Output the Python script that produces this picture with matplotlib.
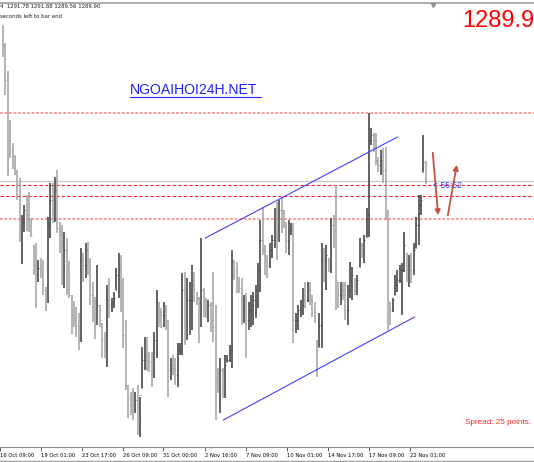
import numpy as np
import matplotlib.pyplot as plt
from matplotlib.patches import FancyArrowPatch

# XAUUSD H4 bars
highs = [
    1305.5, 1303.7, 1300.9, 1296.0, 1293.7, 1292.5, 1291.0, 1290.2, 1286.5, 1287.5,
    1288.5, 1288.8, 1286.2, 1283.5, 1283.7, 1282.0, 1282.2, 1282.0, 1279.3, 1286.3,
    1289.7, 1289.7, 1290.3, 1291.0, 1285.8, 1285.5, 1284.8, 1284.2, 1281.9, 1278.5,
    1277.9, 1277.3, 1276.7, 1283.2, 1282.7, 1283.7, 1283.8, 1282.2, 1279.8, 1278.3,
    1281.5, 1277.5, 1275.7, 1274.8, 1279.5, 1280.2, 1278.2, 1278.8, 1281.2, 1282.7,
    1282.5, 1280.2, 1276.0, 1269.5, 1268.8, 1269.2, 1268.8, 1269.5, 1268.3, 1273.3,
    1274.3, 1274.3, 1272.8, 1272.8, 1274.8, 1279.0, 1277.8, 1277.2, 1277.8, 1277.5,
    1276.0, 1272.2, 1272.5, 1272.2, 1273.7, 1273.7, 1280.7, 1280.8, 1280.2, 1279.8,
    1281.5, 1280.8, 1278.8, 1278.3, 1284.2, 1279.2, 1278.2, 1278.0, 1277.8, 1280.8,
    1277.5, 1271.2, 1272.2, 1271.2, 1272.5, 1272.5, 1273.5, 1283.0, 1282.0, 1281.8,
    1280.3, 1280.2, 1278.5, 1278.7, 1277.8, 1278.5, 1278.8, 1279.5, 1281.7, 1286.0,
    1287.3, 1283.5, 1282.5, 1283.7, 1284.5, 1287.2, 1287.8, 1288.0, 1288.3, 1287.0,
    1285.8, 1286.0, 1285.7, 1285.7, 1276.7, 1277.5, 1278.0, 1279.2, 1279.8, 1279.8,
    1279.8, 1278.5, 1277.8, 1274.0, 1276.7, 1283.7, 1283.2, 1283.5, 1282.2, 1286.2,
    1286.5, 1289.5, 1279.8, 1279.8, 1279.8, 1279.8, 1279.5, 1281.8, 1281.3, 1280.2,
    1280.5, 1284.2, 1283.7, 1284.5, 1287.2, 1296.7, 1295.2, 1294.7, 1294.7, 1292.3,
    1293.0, 1293.2, 1293.3, 1287.0, 1277.8, 1278.2, 1280.5, 1281.0, 1281.5, 1281.7,
    1284.8, 1282.7, 1282.5, 1282.7, 1283.7, 1286.3, 1288.5, 1288.5, 1294.5, 1291.88,
]
lows = [
    1302.3, 1298.5, 1290.4, 1292.2, 1291.1, 1290.5, 1288.0, 1283.8, 1281.6, 1284.8,
    1284.9, 1284.8, 1284.3, 1280.5, 1277.2, 1279.8, 1280.2, 1278.5, 1276.9, 1277.7,
    1284.2, 1285.7, 1285.8, 1284.7, 1282.7, 1279.5, 1279.2, 1278.5, 1278.2, 1274.6,
    1275.3, 1274.3, 1273.0, 1273.8, 1279.8, 1280.2, 1280.5, 1277.5, 1275.8, 1274.1,
    1275.5, 1275.3, 1272.2, 1272.2, 1271.3, 1276.2, 1276.8, 1277.2, 1279.0, 1278.2,
    1276.8, 1273.2, 1269.0, 1266.2, 1266.5, 1266.0, 1266.7, 1264.5, 1264.3, 1269.2,
    1271.0, 1270.9, 1270.8, 1269.3, 1270.2, 1272.2, 1275.3, 1275.2, 1275.3, 1275.0,
    1268.3, 1270.0, 1270.5, 1269.5, 1269.3, 1272.5, 1272.5, 1273.5, 1274.0, 1274.5,
    1275.0, 1277.8, 1277.5, 1273.7, 1275.3, 1276.3, 1276.2, 1275.8, 1274.8, 1273.8,
    1266.0, 1268.7, 1266.7, 1268.2, 1268.2, 1271.8, 1271.8, 1271.2, 1280.0, 1278.7,
    1278.7, 1275.5, 1275.7, 1272.2, 1275.0, 1275.3, 1275.5, 1276.2, 1277.2, 1278.8,
    1282.5, 1280.5, 1280.2, 1281.2, 1282.2, 1283.2, 1282.0, 1283.8, 1284.7, 1285.2,
    1282.7, 1282.5, 1284.5, 1273.7, 1274.7, 1275.0, 1276.3, 1276.5, 1277.2, 1277.8,
    1277.5, 1276.3, 1275.7, 1270.3, 1273.3, 1273.2, 1279.8, 1279.0, 1280.8, 1280.7,
    1283.2, 1277.0, 1277.2, 1277.5, 1278.0, 1276.0, 1275.5, 1278.2, 1278.0, 1278.5,
    1278.5, 1281.3, 1282.2, 1281.7, 1284.3, 1284.3, 1293.5, 1292.8, 1291.5, 1290.8,
    1290.5, 1289.7, 1286.0, 1275.0, 1275.5, 1276.8, 1278.5, 1278.8, 1279.7, 1276.5,
    1280.8, 1279.8, 1279.3, 1279.7, 1280.5, 1283.2, 1283.5, 1286.5, 1290.8, 1289.56,
]
closes = [
    1303.5, 1300.0, 1295.0, 1293.0, 1292.0, 1291.0, 1289.5, 1285.5, 1285.8, 1287.0,
    1286.5, 1285.5, 1284.5, 1281.5, 1281.0, 1281.2, 1280.5, 1279.0, 1278.0, 1285.5,
    1288.0, 1287.0, 1289.0, 1285.2, 1283.5, 1281.0, 1283.0, 1281.0, 1278.5, 1276.5,
    1276.0, 1275.5, 1274.0, 1282.0, 1281.5, 1283.0, 1281.8, 1278.5, 1278.0, 1276.0,
    1277.5, 1276.0, 1274.0, 1273.5, 1278.0, 1277.5, 1277.8, 1278.2, 1280.5, 1281.5,
    1278.5, 1274.5, 1269.5, 1268.2, 1268.0, 1267.5, 1268.0, 1266.0, 1268.5, 1272.0,
    1272.5, 1272.0, 1271.8, 1271.0, 1274.0, 1278.0, 1276.8, 1276.5, 1277.0, 1276.0,
    1271.0, 1271.5, 1271.2, 1270.5, 1273.0, 1273.2, 1279.0, 1276.0, 1278.0, 1278.0,
    1279.5, 1279.0, 1278.2, 1277.0, 1279.0, 1278.0, 1277.0, 1277.5, 1276.0, 1275.0,
    1270.0, 1269.5, 1271.0, 1269.0, 1271.5, 1272.0, 1273.0, 1281.8, 1281.0, 1279.5,
    1279.2, 1277.0, 1278.0, 1276.0, 1277.0, 1277.5, 1278.0, 1279.0, 1281.0, 1284.0,
    1283.0, 1282.5, 1281.5, 1283.0, 1284.0, 1286.5, 1284.0, 1287.0, 1286.0, 1285.5,
    1284.0, 1285.0, 1285.2, 1276.0, 1276.0, 1277.0, 1277.5, 1278.5, 1278.0, 1279.0,
    1278.0, 1277.0, 1276.5, 1273.0, 1275.5, 1282.0, 1280.5, 1282.5, 1281.5, 1285.5,
    1285.0, 1280.0, 1278.5, 1279.0, 1278.5, 1277.0, 1279.0, 1280.0, 1280.5, 1279.8,
    1280.0, 1283.5, 1283.0, 1284.0, 1286.5, 1294.0, 1294.5, 1294.0, 1292.0, 1291.5,
    1292.0, 1291.0, 1287.0, 1278.0, 1277.0, 1278.0, 1279.5, 1280.0, 1281.0, 1281.0,
    1283.5, 1281.0, 1281.5, 1281.0, 1283.0, 1285.5, 1287.5, 1288.0, 1291.78, 1289.90,
]
first_open = 1305.0

date_labels = ["16 Oct 09:00", "19 Oct 01:00", "23 Oct 17:00", "26 Oct 09:00",
               "31 Oct 00:00", "2 Nov 16:00", "7 Nov 09:00", "10 Nov 01:00",
               "14 Nov 17:00", "17 Nov 09:00", "22 Nov 01:00"]
date_ticks = [-1.3, 16.0, 33.3, 50.6, 67.9, 85.7, 103.0, 120.3, 137.6, 154.9, 172.2]

levels_light = [1296.7, 1286.1]
levels_dark = [1289.5, 1288.4]
bid = 1289.90

channel_top = ([85.7, 167.1], [1284.2, 1294.3])
channel_bottom = ([93.3, 174.3], [1266.0, 1276.3])
arrow_down = ((181.9, 1293.0), (184.4, 1286.2))
arrow_up = ((188.2, 1286.2), (192.4, 1291.8))

highs = np.array(highs)
lows = np.array(lows)
closes = np.array(closes)
opens = np.clip(np.r_[first_open, closes[:-1]], lows, highs)
x = np.arange(len(highs))

fig = plt.figure(figsize=(5.34, 4.62), dpi=100)
ax = fig.add_axes([0, 15 / 462, 1, 444 / 462])
ax.set_xlim(-0.42, 224.9)
ax.set_ylim(1263.3, 1307.7)

# price levels
for lv in levels_light:
    ax.axhline(lv, color="#ff9090", lw=1.3, ls=(0, (1.5, 1)), zorder=1)
for lv in levels_dark:
    ax.axhline(lv, color="#ff2020", lw=0.8, ls=(0, (3, 2)), zorder=1)
ax.axhline(bid, color="#c8c8c8", lw=0.9, zorder=1)

up = closes >= opens
for mask, col in [(up, "#383838"), (~up, "#a0a0a0")]:
    ax.vlines(x[mask], lows[mask], highs[mask], color=col, lw=1.1, zorder=2)
    ax.hlines(opens[mask], x[mask] - 0.4, x[mask], color=col, lw=0.6, zorder=2)
    ax.hlines(closes[mask], x[mask], x[mask] + 0.4, color=col, lw=0.6, zorder=2)

# channel
ax.plot(*channel_top, color="#4040ff", lw=0.8, zorder=3)
ax.plot(*channel_bottom, color="#4040ff", lw=0.8, zorder=3)

for a, b in [arrow_down, arrow_up]:
    ax.add_patch(FancyArrowPatch(a, b, arrowstyle="-|>,head_length=3,head_width=1.5",
                                 color="#c8503c", lw=1.3, zorder=4))

ax.text(182.2, bid - 0.4, "< 55:52", color="#3c3cff", fontsize=6.2,
        family="Liberation Sans", va="center", ha="left", zorder=5)

# axes look
for s in ["left", "right"]:
    ax.spines[s].set_visible(False)
ax.spines["bottom"].set_color("#909090")
ax.spines["top"].set_color("#a0a0a0")
ax.spines["top"].set_linewidth(1.2)
ax.set_yticks([])
ax.set_xticks(date_ticks)
ax.set_xticklabels(date_labels, ha="left", fontsize=3.8, family="DejaVu Sans")
ax.tick_params(axis="x", length=3, width=0.7, color="#606060", pad=1.5)

# overlay texts
fig.text(0 / 534, 1 - 7 / 462, "4  1291.78 1291.88 1289.56 1289.90", fontsize=3.9,
         va="center", ha="left", color="#202020")
fig.text(0 / 534, 1 - 16 / 462, "seconds left to bar end", fontsize=3.9,
         va="center", ha="left", color="#202020")
fig.text(462 / 534, 1 - 27 / 462, "1289.9", fontsize=17, color="red",
         family="Liberation Sans", va="baseline", ha="left")
fig.text(130 / 534, 1 - 94 / 462, "NGOAIHOI24H.NET", fontsize=10.1, color="#2020ff",
         family="Liberation Sans", va="baseline", ha="left")
fig.add_artist(plt.Line2D([130 / 534, 261 / 534], [1 - 96.5 / 462] * 2,
                          color="#2020ff", lw=0.8))
fig.text(465 / 534, 1 - 423 / 462, "Spread: 25 points.", fontsize=5.9, color="#ff2828",
         family="Liberation Sans", va="center", ha="left")
fig.add_artist(plt.Line2D([0, 1], [1 - 460.5 / 462] * 2, color="#a0a0a0", lw=1.0))
ax.plot([182.0], [1307.5], marker="v", color="#909090", ms=3, clip_on=False, zorder=5)

fig.savefig("out.png", dpi=100)
